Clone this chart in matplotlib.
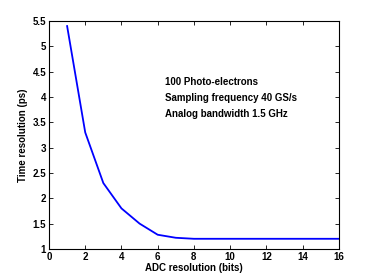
import matplotlib
matplotlib.use('Agg')
import matplotlib.pyplot as plt

# ADC resolution (bits) vs time resolution (ps)
bits = [1, 2, 3, 4, 5, 6, 7, 8, 9, 10, 11, 12, 13, 14, 15, 16]
time_res = [5.4, 3.3, 2.3, 1.8, 1.5, 1.28, 1.22, 1.2, 1.2, 1.2, 1.2, 1.2, 1.2, 1.2, 1.2, 1.2]
notes = ['100 Photo-electrons', 'Sampling frequency 40 GS/s', 'Analog bandwidth 1.5 GHz']

plt.rcParams['font.family'] = ['Liberation Sans', 'DejaVu Sans']
plt.rcParams['font.weight'] = 'bold'

fig = plt.figure(figsize=(3.74, 2.8), dpi=100)
ax = fig.add_axes([0.131, 0.111, 0.775, 0.814])
ax.plot(bits, time_res, color='#0000ff', linewidth=1.3)

ax.set_xlim(0, 16)
ax.set_ylim(1, 5.5)
ax.set_xticks(range(0, 17, 2))
ax.set_yticks([1, 1.5, 2, 2.5, 3, 3.5, 4, 4.5, 5, 5.5])
ax.set_yticklabels(['1', '1.5', '2', '2.5', '3', '3.5', '4', '4.5', '5', '5.5'])
ax.tick_params(direction='in', top=True, right=True, labelsize=7, length=3, width=0.6, pad=2)
for s in ax.spines.values():
    s.set_linewidth(0.8)

ax.set_xlabel('ADC resolution (bits)', fontsize=7, fontweight='bold', labelpad=1)
ax.set_ylabel('Time resolution (ps)', fontsize=7, fontweight='bold', labelpad=3)

for i, t in enumerate(notes):
    ax.text(6.4, 4.3 - i * 0.32, t, fontsize=7, fontweight='bold', va='center', ha='left')

fig.savefig('out.png', dpi=100)
